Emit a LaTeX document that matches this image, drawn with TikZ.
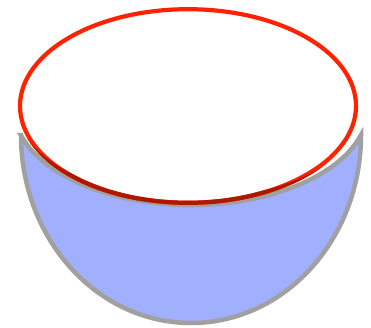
\documentclass[tikz,border=0pt]{standalone}
\begin{document}
\begin{tikzpicture}[x=1pt,y=1pt,
  bowl/.style={draw={rgb,255:red,160;green,160;blue,160},fill={rgb,255:red,160;green,176;blue,255},line width=4.5pt,line join=miter},
  rim/.style={draw={rgb,255:red,255;green,34;blue,0},line width=4.2pt},
  rimdark/.style={draw={rgb,255:red,175;green,24;blue,0},line width=4.2pt}]
\useasboundingbox (0,0) rectangle (371,327);
\coordinate (L) at (21,192);
\coordinate (C) at (188,221);
\draw[bowl] (L) arc[start angle=180,end angle=360,x radius=170,y radius=188]
  arc[start angle=343.4,end angle=196.6,x radius=177.5,y radius=98] -- cycle;
\draw[rim] (C) ellipse[x radius=168,y radius=96.8];
\begin{scope}
\clip (21,198) arc[start angle=180,end angle=360,x radius=170,y radius=194]
  arc[start angle=343.4,end angle=196.6,x radius=177.5,y radius=98] -- cycle;
\draw[rimdark] (C) ellipse[x radius=168,y radius=96.8];
\end{scope}
\end{tikzpicture}
\end{document}
